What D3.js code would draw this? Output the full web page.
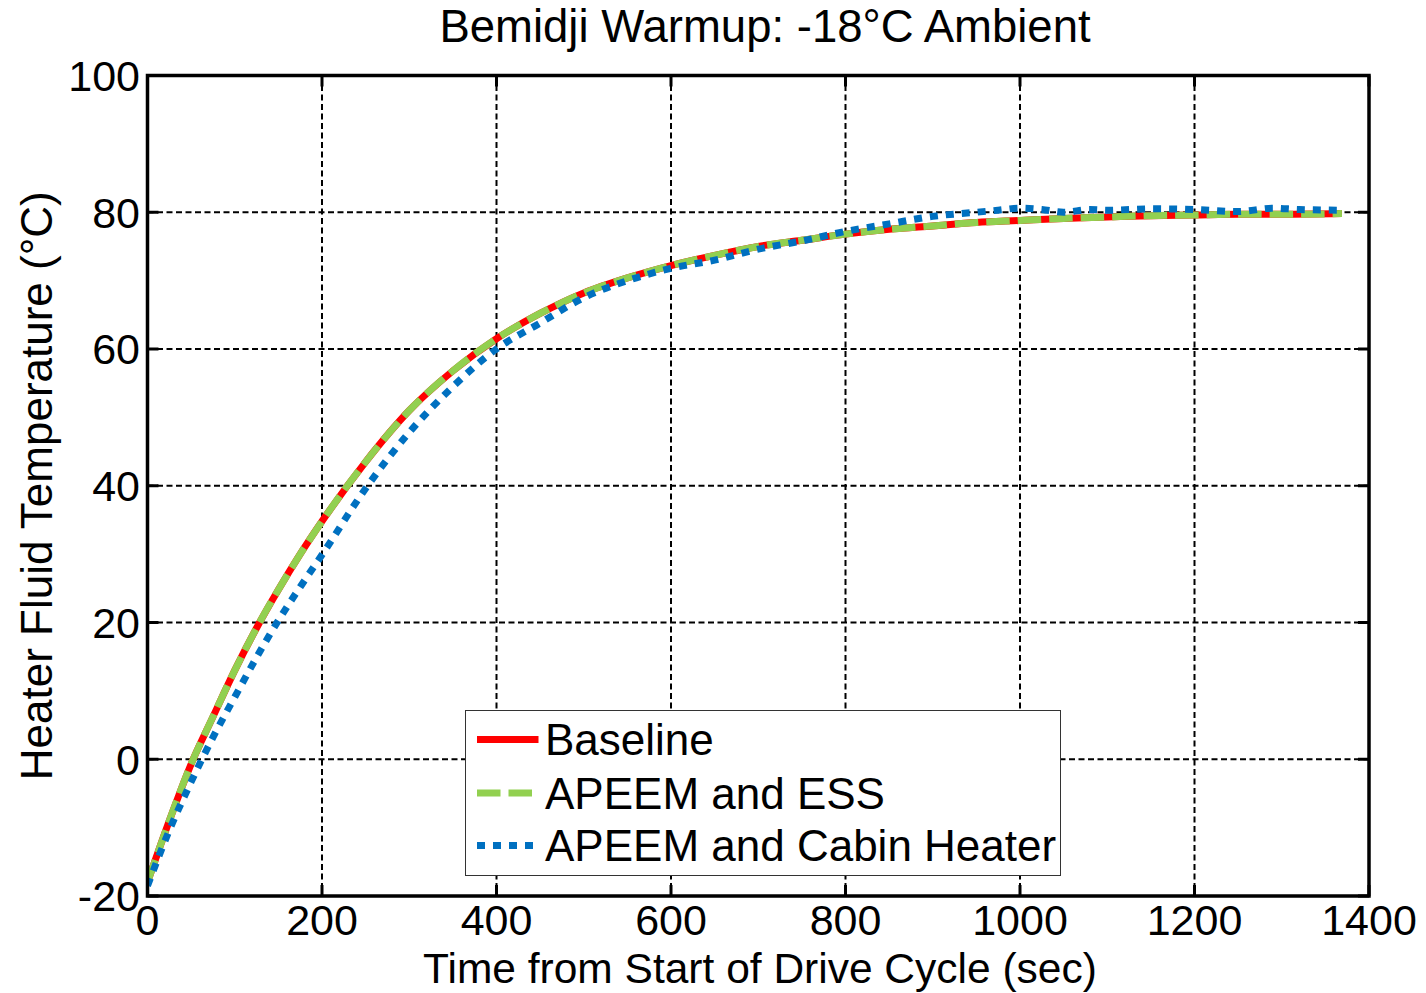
<!DOCTYPE html>
<html>
<head>
<meta charset="utf-8">
<script src="https://cdn.jsdelivr.net/npm/d3@7"></script>
<style>
  html, body { margin: 0; padding: 0; background: #fff; }
  svg text { font-family: "Liberation Sans", Arial, Helvetica, sans-serif; fill: #000; }
</style>
</head>
<body>
<div id="chart"></div>
<script>
// ----- Data -----
const xTicks = [0, 200, 400, 600, 800, 1000, 1200, 1400];
const yTicks = [-20, 0, 20, 40, 60, 80, 100];

const timeBase = [0, 25, 50, 75, 100, 125, 150, 175, 200, 250, 300, 350, 400, 450, 500, 550,
  600, 650, 700, 750, 800, 850, 900, 950, 1000, 1050, 1100, 1150, 1200, 1250, 1300, 1369];
const baseline = [-18, -9, -0.7, 6.2, 13.0, 19.2, 24.8, 30.0, 34.8, 43.5, 51.0, 56.8, 61.5, 65.2, 68.2, 70.4,
  72.2, 73.7, 75.0, 75.9, 76.8, 77.5, 78.0, 78.5, 78.8, 79.1, 79.3, 79.5, 79.6, 79.7, 79.7, 79.8];
const apeemEss = [-18, -9, -0.7, 6.2, 13.0, 19.2, 24.8, 30.0, 34.8, 43.5, 51.0, 56.8, 61.5, 65.2, 68.2, 70.4,
  72.2, 73.7, 75.0, 75.9, 76.8, 77.5, 78.0, 78.5, 78.8, 79.1, 79.3, 79.5, 79.6, 79.7, 79.7, 79.8];

const timeCab = [0, 25, 50, 75, 100, 125, 150, 175, 200, 250, 300, 350, 400, 450, 500, 550,
  600, 650, 700, 750, 800, 850, 900, 950, 975, 1000, 1025, 1050, 1080, 1100, 1150, 1200,
  1250, 1290, 1320, 1369];
const apeemCabin = [-18.5, -10.4, -3.3, 3.2, 9.1, 14.9, 20.3, 25.2, 29.9, 39.6, 47.8, 54.5, 60.0, 63.8, 67.5, 70.0,
  71.8, 73.0, 74.6, 75.8, 77.2, 78.3, 79.4, 80.0, 80.3, 80.6, 80.4, 80.0, 80.4, 80.3, 80.5, 80.4,
  80.1, 80.6, 80.4, 80.3];

const seriesNames = ["Baseline", "APEEM and ESS", "APEEM and Cabin Heater"];

// ----- Layout -----
const width  = 1426;
const height = 993;
const plot = { left: 147.5, right: 1369, top: 75.5, bottom: 896 };
const fontSize = 44;

const svg = d3.select("#chart")
  .append("svg")
  .attr("width", width)
  .attr("height", height);

const x = d3.scaleLinear().domain([0, 1400]).range([plot.left, plot.right]);
const y = d3.scaleLinear().domain([-20, 100]).range([plot.bottom, plot.top]);

// gridlines
const grid = svg.append("g")
  .attr("stroke", "#000")
  .attr("stroke-width", 2)
  .attr("stroke-dasharray", "6,3.5");

grid.selectAll(".vgrid")
  .data(xTicks.slice(1, -1))
  .enter().append("line")
  .attr("x1", d => x(d)).attr("x2", d => x(d))
  .attr("y1", plot.top).attr("y2", plot.bottom);

grid.selectAll(".hgrid")
  .data(yTicks.slice(1, -1))
  .enter().append("line")
  .attr("x1", plot.left).attr("x2", plot.right)
  .attr("y1", d => y(d)).attr("y2", d => y(d));

// clip
svg.append("clipPath").attr("id", "clip")
  .append("rect")
  .attr("x", plot.left).attr("y", plot.top)
  .attr("width", plot.right - plot.left)
  .attr("height", plot.bottom - plot.top);

const line = d3.line()
  .x(d => x(d[0]))
  .y(d => y(d[1]))
  .curve(d3.curveMonotoneX);

const styles = [
  { color: "#ff0000", width: 7, dash: null },
  { color: "#92d050", width: 7, dash: "23.5,8" },
  { color: "#0070c0", width: 7, dash: "8,8" }
];

const seriesData = [
  d3.zip(timeBase, baseline),
  d3.zip(timeBase, apeemEss),
  d3.zip(timeCab, apeemCabin)
];

const lines = svg.append("g").attr("clip-path", "url(#clip)");
seriesData.forEach((data, i) => {
  lines.append("path")
    .datum(data)
    .attr("fill", "none")
    .attr("stroke", styles[i].color)
    .attr("stroke-width", styles[i].width)
    .attr("stroke-dasharray", styles[i].dash)
    .attr("d", line);
});

// axes box + inward ticks
const axes = svg.append("g");
const tickLen = 11;

axes.append("rect")
  .attr("x", plot.left).attr("y", plot.top)
  .attr("width", plot.right - plot.left)
  .attr("height", plot.bottom - plot.top)
  .attr("fill", "none")
  .attr("stroke", "#000")
  .attr("stroke-width", 3.5);

axes.selectAll(".xt")
  .data(xTicks)
  .enter().append("g")
  .each(function (d) {
    const g = d3.select(this);
    g.append("line")
      .attr("x1", x(d)).attr("x2", x(d))
      .attr("y1", plot.bottom).attr("y2", plot.bottom - tickLen)
      .attr("stroke", "#000").attr("stroke-width", 3);
    g.append("line")
      .attr("x1", x(d)).attr("x2", x(d))
      .attr("y1", plot.top).attr("y2", plot.top + tickLen)
      .attr("stroke", "#000").attr("stroke-width", 3);
    g.append("text")
      .attr("x", x(d))
      .attr("y", 935)
      .attr("text-anchor", "middle")
      .attr("font-size", 43)
      .text(d);
  });

axes.selectAll(".yt")
  .data(yTicks)
  .enter().append("g")
  .each(function (d) {
    const g = d3.select(this);
    g.append("line")
      .attr("x1", plot.left).attr("x2", plot.left + tickLen)
      .attr("y1", y(d)).attr("y2", y(d))
      .attr("stroke", "#000").attr("stroke-width", 3);
    g.append("line")
      .attr("x1", plot.right).attr("x2", plot.right - tickLen)
      .attr("y1", y(d)).attr("y2", y(d))
      .attr("stroke", "#000").attr("stroke-width", 3);
    g.append("text")
      .attr("x", 140)
      .attr("y", y(d))
      .attr("dy", "0.36em")
      .attr("text-anchor", "end")
      .attr("font-size", 43)
      .text(d);
  });

// titles
svg.append("text")
  .attr("x", 765)
  .attr("y", 42)
  .attr("text-anchor", "middle")
  .attr("font-size", 45.5)
  .text("Bemidji Warmup: -18°C Ambient");

svg.append("text")
  .attr("x", 760)
  .attr("y", 983)
  .attr("text-anchor", "middle")
  .attr("font-size", 42.5)
  .text("Time from Start of Drive Cycle (sec)");

svg.append("text")
  .attr("transform", `translate(52,${(plot.top + plot.bottom) / 2}) rotate(-90)`)
  .attr("text-anchor", "middle")
  .attr("font-size", fontSize)
  .text("Heater Fluid Temperature (°C)");

// legend
const legend = svg.append("g");
legend.append("rect")
  .attr("x", 465.5).attr("y", 710.5)
  .attr("width", 595).attr("height", 165)
  .attr("fill", "#fff")
  .attr("stroke", "#333")
  .attr("stroke-width", 1);

const legendRows = [739.5, 793, 845.5];
seriesNames.forEach((name, i) => {
  legend.append("line")
    .attr("x1", 477).attr("x2", 538.5)
    .attr("y1", legendRows[i]).attr("y2", legendRows[i])
    .attr("stroke", styles[i].color)
    .attr("stroke-width", styles[i].width)
    .attr("stroke-dasharray", styles[i].dash);
  legend.append("text")
    .attr("x", 545)
    .attr("y", legendRows[i])
    .attr("dy", "0.36em")
    .attr("font-size", fontSize)
    .text(name);
});
</script>
</body>
</html>
